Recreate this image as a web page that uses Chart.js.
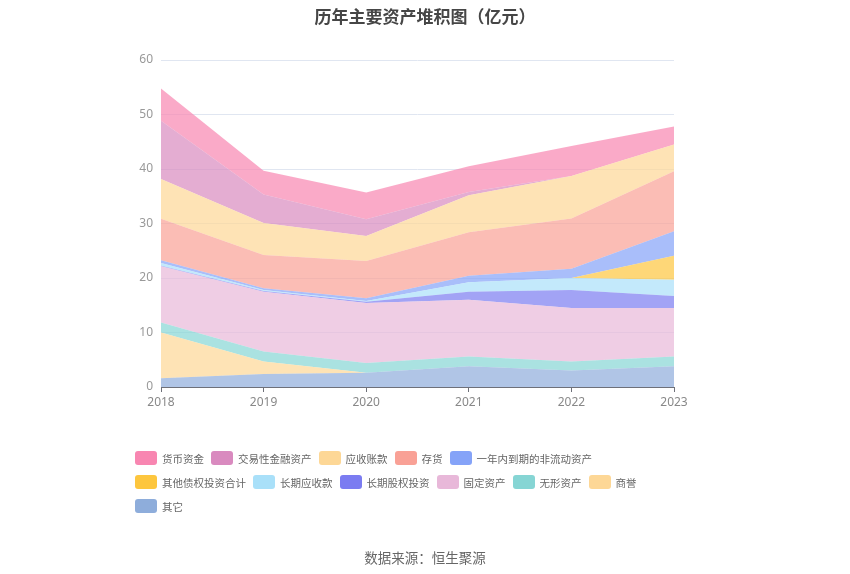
<!DOCTYPE html>
<html>
<head>
<meta charset="utf-8">
<script src="https://cdn.jsdelivr.net/npm/chart.js@4/dist/chart.umd.min.js"></script>
<style>
    body { margin: 0; background: #fff; }
    #wrap { position: relative; width: 850px; height: 574px; font-family: "Noto Sans CJK SC", "Noto Sans", sans-serif; }
    #chart { position: absolute; left: 0; top: 0; }
    #title { position: absolute; top: 3px; left: 0; width: 850px; text-align: center; font-size: 17px; font-weight: bold; color: #464646; }
    #legend { position: absolute; left: 135px; top: 450px; width: 540px; display: flex; flex-wrap: wrap; row-gap: 8px; column-gap: 7px; }
    .item { display: flex; align-items: center; height: 16px; font-size: 10.5px; color: #666; }
    .box { width: 22px; height: 14px; border-radius: 3px; margin-right: 5px; }
    #source { position: absolute; top: 547px; left: 0; width: 850px; text-align: center; font-size: 13.5px; color: #666; }
</style>
</head>
<body>
<div id="wrap">
    <canvas id="chart" width="850" height="574"></canvas>
    <div id="title">历年主要资产堆积图（亿元）</div>
    <div id="legend"></div>
    <div id="source">数据来源：恒生聚源</div>
</div>
<script>
const years = ['2018', '2019', '2020', '2021', '2022', '2023'];
const yTicks = [0, 10, 20, 30, 40, 50, 60];

// bottom of the stack first
const other = [1.6, 2.4, 2.6, 3.8, 3.05, 3.8];
const goodwill = [8.4, 2.3, 0, 0, 0, 0];
const intangible = [1.85, 1.8, 1.8, 1.8, 1.65, 1.8];
const fixedAssets = [10.3, 11.0, 11.0, 10.4, 9.8, 8.9];
const equityInvest = [0.1, 0.1, 0.25, 1.5, 3.3, 2.2];
const longReceivable = [0.5, 0.2, 0.15, 1.7, 2.2, 3.0];
const otherDebtInvest = [0, 0, 0, 0, 0, 4.4];
const currentNonCurrent = [0.5, 0.3, 0.5, 1.2, 1.7, 4.5];
const inventory = [7.6, 6.1, 6.8, 8.0, 9.2, 11.0];
const receivables = [7.3, 5.9, 4.6, 6.8, 7.8, 4.9];
const tradingAssets = [10.7, 5.2, 3.1, 0.6, 0, 0];
const cash = [5.9, 4.4, 4.9, 4.7, 5.5, 3.3];

// legend order (top of stack first)
const series = [
    { label: '货币资金', data: cash, color: '#f886b1' },
    { label: '交易性金融资产', data: tradingAssets, color: '#d98abf' },
    { label: '应收账款', data: receivables, color: '#fdd796' },
    { label: '存货', data: inventory, color: '#f9a196' },
    { label: '一年内到期的非流动资产', data: currentNonCurrent, color: '#85a3f8' },
    { label: '其他债权投资合计', data: otherDebtInvest, color: '#fdc63e' },
    { label: '长期应收款', data: longReceivable, color: '#a9e0f9' },
    { label: '长期股权投资', data: equityInvest, color: '#7b7cf1' },
    { label: '固定资产', data: fixedAssets, color: '#e8b8d9' },
    { label: '无形资产', data: intangible, color: '#86d5d4' },
    { label: '商誉', data: goodwill, color: '#fdd796' },
    { label: '其它', data: other, color: '#8eaddb' },
];

function withAlpha(hex, a) {
    const n = parseInt(hex.slice(1), 16);
    return `rgba(${(n >> 16) & 255}, ${(n >> 8) & 255}, ${n & 255}, ${a})`;
}

const stackOrder = series.slice().reverse();

new Chart(document.getElementById('chart'), {
    type: 'line',
    data: {
        labels: years,
        datasets: stackOrder.map((s, i) => ({
            label: s.label,
            data: s.data,
            backgroundColor: withAlpha(s.color, 0.7),
            borderWidth: 0,
            pointRadius: 0,
            tension: 0,
            fill: i === 0 ? 'origin' : '-1',
        })),
    },
    options: {
        responsive: false,
        animation: false,
        layout: { padding: { left: 121, right: 176, top: 60, bottom: 157 } },
        plugins: {
            legend: { display: false },
            tooltip: { enabled: false },
        },
        scales: {
            x: {
                offset: false,
                afterFit: (s) => { s.height = 30; },
                border: { color: '#6e7079' },
                grid: { drawOnChartArea: false, drawTicks: true, tickLength: 5, color: '#6e7079' },
                ticks: { color: '#888', font: { size: 12, family: 'Noto Sans' }, padding: 3 },
            },
            y: {
                stacked: true,
                min: 0,
                max: 60,
                afterFit: (s) => { s.width = 40; },
                afterBuildTicks: (s) => { s.ticks = yTicks.map((v) => ({ value: v })); },
                border: { display: false },
                grid: { color: '#e0e6f1', drawTicks: false },
                ticks: { color: '#999', font: { size: 12, family: 'Noto Sans' }, padding: 8 },
            },
        },
    },
});

const legend = document.getElementById('legend');
series.forEach((s) => {
    const item = document.createElement('div');
    item.className = 'item';
    item.innerHTML = `<span class="box" style="background:${s.color}"></span>${s.label}`;
    legend.appendChild(item);
});
</script>
</body>
</html>
